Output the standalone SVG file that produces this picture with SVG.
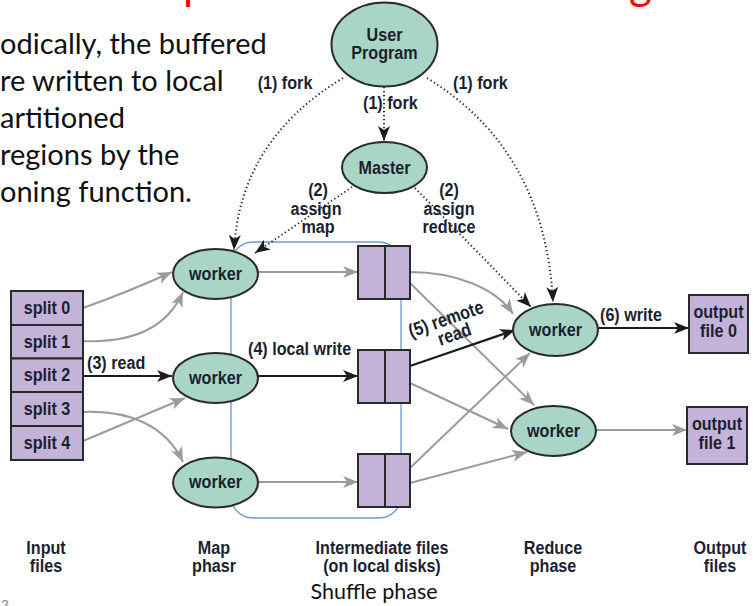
<svg xmlns="http://www.w3.org/2000/svg" width="753" height="606" viewBox="0 0 753 606">
  <style>
    .node { fill: #a9d5c7; stroke: #2a2a2a; stroke-width: 2; }
    .file { fill: #c4b3d9; stroke: #2a2a2a; stroke-width: 2; }
    .lbl { font-family: "Liberation Sans", Arial, sans-serif; font-weight: bold; font-size: 19px; fill: #1c1f30; }
    .mid { text-anchor: middle; }
    .body { font-family: Lato, "Open Sans", sans-serif; font-size: 29px; fill: #111; }
    .gray { fill: none; stroke: #9b9b9b; stroke-width: 2; }
    .dark { fill: none; stroke: #1c1c1c; stroke-width: 2.2; }
    .dots { fill: none; stroke: #2b2b2b; stroke-width: 2; stroke-dasharray: 1.3 2.7; }
  </style>
  <defs>
    <marker id="ah-gray" markerUnits="userSpaceOnUse" markerWidth="16" markerHeight="12" refX="15" refY="6" orient="auto">
      <path d="M0,0 L15,6 L0,12 L4,6 z" fill="#9b9b9b"/>
    </marker>
    <marker id="ah-dark" markerUnits="userSpaceOnUse" markerWidth="16" markerHeight="12" refX="15" refY="6" orient="auto">
      <path d="M0,0 L15,6 L0,12 L4,6 z" fill="#1c1c1c"/>
    </marker>
  </defs>

  <!-- title descenders at the top edge -->
  <text x="183" y="-1" font-family="Lato, 'Open Sans', sans-serif" font-size="44" fill="#ff0000">p</text>
  <text x="629" y="-1" font-family="Lato, 'Open Sans', sans-serif" font-size="44" fill="#ff0000">g</text>

  <!-- slide body text -->
  <g class="body">
    <text x="0" y="54">odically, the buffered</text>
    <text x="0" y="91">re written to local</text>
    <text x="0" y="128">artitioned</text>
    <text x="0" y="165">regions by the</text>
    <text x="0" y="202">oning function.</text>
  </g>

  <!-- shuffle region outline -->
  <rect x="231" y="242" width="170" height="276" rx="22" fill="none" stroke="#6a9ad2" stroke-width="1.3"/>

  <!-- connectors -->
  <g id="connectors">
    <!-- control flow (dotted) -->
    <path class="dots" d="M343,78 Q240,140 234,250" marker-end="url(#ah-dark)"/>
    <path class="dots" d="M384,87 L384,141" marker-end="url(#ah-dark)"/>
    <path class="dots" d="M427,78 Q545,150 553,302" marker-end="url(#ah-dark)"/>
    <path class="dots" d="M352,187 L255,253" marker-end="url(#ah-dark)"/>
    <path class="dots" d="M415,188 L531,307" marker-end="url(#ah-dark)"/>

    <!-- input splits to map workers -->
    <path class="gray" d="M83,308 Q128,292 172,272" marker-end="url(#ah-gray)"/>
    <path class="gray" d="M83,341 C130,343 166,330 183,292" marker-end="url(#ah-gray)"/>
    <path class="dark" d="M83,376 L172,376" marker-end="url(#ah-dark)"/>
    <path class="gray" d="M83,412 C130,410 166,426 183,462" marker-end="url(#ah-gray)"/>
    <path class="gray" d="M83,441 L185,398" marker-end="url(#ah-gray)"/>

    <!-- map workers to intermediate files -->
    <path class="gray" d="M258,272 L358,272" marker-end="url(#ah-gray)"/>
    <path class="dark" d="M258,376 L358,376" marker-end="url(#ah-dark)"/>
    <path class="gray" d="M258,482 L358,482" marker-end="url(#ah-gray)"/>

    <!-- intermediate files to reduce workers -->
    <path class="gray" d="M410,272 C455,272 496,288 513,314" marker-end="url(#ah-gray)"/>
    <path class="gray" d="M410,283 L534,405" marker-end="url(#ah-gray)"/>
    <path class="dark" d="M410,366 L515,330" marker-end="url(#ah-dark)"/>
    <path class="gray" d="M410,383 L508,429" marker-end="url(#ah-gray)"/>
    <path class="gray" d="M410,468 L530,353" marker-end="url(#ah-gray)"/>
    <path class="gray" d="M410,483 L527,452" marker-end="url(#ah-gray)"/>

    <!-- reduce workers to output files -->
    <path class="dark" d="M598,328 L689,328" marker-end="url(#ah-dark)"/>
    <path class="gray" d="M596,430 L687,430" marker-end="url(#ah-gray)"/>
  </g>

  <!-- connector labels (bold, horizontally condensed) -->
  <g class="lbl">
    <text class="mid" transform="translate(285,89) scale(0.85,1)">(1) fork</text>
    <text transform="translate(363,109) scale(0.85,1)">(1) fork</text>
    <text transform="translate(453,89) scale(0.85,1)">(1) fork</text>
    <text class="mid" transform="translate(318,196) scale(0.85,1)">(2)</text>
    <text class="mid" transform="translate(316,215) scale(0.85,1)">assign</text>
    <text class="mid" transform="translate(318,233) scale(0.85,1)">map</text>
    <text class="mid" transform="translate(449,196) scale(0.85,1)">(2)</text>
    <text class="mid" transform="translate(449,215) scale(0.85,1)">assign</text>
    <text class="mid" transform="translate(449,233) scale(0.85,1)">reduce</text>
    <text transform="translate(87,369) scale(0.85,1)">(3) read</text>
    <text transform="translate(248,355) scale(0.85,1)">(4) local write</text>
    <g transform="translate(448,325) rotate(-19)">
      <text class="mid" transform="scale(0.85,1)">(5) remote</text>
      <text class="mid" transform="translate(3,17) scale(0.85,1)">read</text>
    </g>
    <text transform="translate(600,321) scale(0.85,1)">(6) write</text>
  </g>

  <!-- nodes -->
  <g id="user-program">
    <ellipse class="node" cx="384.5" cy="44.5" rx="53" ry="42"/>
    <text class="lbl mid" transform="translate(384.5,41) scale(0.85,1)">User</text>
    <text class="lbl mid" transform="translate(384.5,59) scale(0.85,1)">Program</text>
  </g>
  <g id="master">
    <ellipse class="node" cx="384.5" cy="167.5" rx="42.5" ry="25.5"/>
    <text class="lbl mid" transform="translate(384.5,174) scale(0.85,1)">Master</text>
  </g>

  <g id="input-splits">
    <rect class="file" x="11" y="291" width="72" height="34"/>
    <rect class="file" x="11" y="325" width="72" height="33.5"/>
    <rect class="file" x="11" y="358.5" width="72" height="33.5"/>
    <rect class="file" x="11" y="392" width="72" height="34"/>
    <rect class="file" x="11" y="426" width="72" height="34"/>
    <g class="lbl mid">
      <text transform="translate(47,314) scale(0.85,1)">split 0</text>
      <text transform="translate(47,348) scale(0.85,1)">split 1</text>
      <text transform="translate(47,381) scale(0.85,1)">split 2</text>
      <text transform="translate(47,415) scale(0.85,1)">split 3</text>
      <text transform="translate(47,449) scale(0.85,1)">split 4</text>
    </g>
  </g>

  <g id="map-worker-0">
    <ellipse class="node" cx="215.5" cy="274" rx="42.5" ry="25"/>
    <text class="lbl mid" transform="translate(215.5,280) scale(0.85,1)">worker</text>
  </g>
  <g id="map-worker-1">
    <ellipse class="node" cx="215.5" cy="378" rx="42.5" ry="25"/>
    <text class="lbl mid" transform="translate(215.5,384) scale(0.85,1)">worker</text>
  </g>
  <g id="map-worker-2">
    <ellipse class="node" cx="215.5" cy="482.5" rx="42.5" ry="25"/>
    <text class="lbl mid" transform="translate(215.5,488) scale(0.85,1)">worker</text>
  </g>

  <g id="intermediate-0">
    <rect class="file" x="358" y="246" width="52" height="53"/>
    <line x1="385" y1="246" x2="385" y2="299" stroke="#2a2a2a" stroke-width="2"/>
  </g>
  <g id="intermediate-1">
    <rect class="file" x="358" y="350" width="52" height="53"/>
    <line x1="385" y1="350" x2="385" y2="403" stroke="#2a2a2a" stroke-width="2"/>
  </g>
  <g id="intermediate-2">
    <rect class="file" x="358" y="454" width="52" height="53"/>
    <line x1="385" y1="454" x2="385" y2="507" stroke="#2a2a2a" stroke-width="2"/>
  </g>

  <g id="reduce-worker-0">
    <ellipse class="node" cx="555.5" cy="330" rx="42.5" ry="26"/>
    <text class="lbl mid" transform="translate(555.5,336) scale(0.85,1)">worker</text>
  </g>
  <g id="reduce-worker-1">
    <ellipse class="node" cx="553.5" cy="431" rx="42.5" ry="25"/>
    <text class="lbl mid" transform="translate(553.5,437) scale(0.85,1)">worker</text>
  </g>

  <g id="output-0">
    <rect class="file" x="689" y="295" width="59" height="58"/>
    <text class="lbl mid" transform="translate(718.5,318) scale(0.85,1)">output</text>
    <text class="lbl mid" transform="translate(718.5,337) scale(0.85,1)">file 0</text>
  </g>
  <g id="output-1">
    <rect class="file" x="687" y="407" width="60" height="57"/>
    <text class="lbl mid" transform="translate(717,430) scale(0.85,1)">output</text>
    <text class="lbl mid" transform="translate(717,449) scale(0.85,1)">file 1</text>
  </g>

  <!-- stage captions -->
  <g class="lbl mid">
    <text transform="translate(46,554) scale(0.85,1)">Input</text>
    <text transform="translate(46,572) scale(0.85,1)">files</text>
    <text transform="translate(214,554) scale(0.85,1)">Map</text>
    <text transform="translate(214,572) scale(0.85,1)">phasr</text>
    <text transform="translate(382,554) scale(0.85,1)">Intermediate files</text>
    <text transform="translate(382,572) scale(0.85,1)">(on local disks)</text>
    <text transform="translate(553,554) scale(0.85,1)">Reduce</text>
    <text transform="translate(553,572) scale(0.85,1)">phase</text>
    <text transform="translate(720,554) scale(0.85,1)">Output</text>
    <text transform="translate(720,572) scale(0.85,1)">files</text>
  </g>
  <text x="374" y="599" text-anchor="middle" font-family="Lato, 'Open Sans', sans-serif" font-size="21.5" fill="#111">Shuffle phase</text>
  <text x="-7" y="610" font-family="Lato, 'Open Sans', sans-serif" font-size="14" fill="#8a8a8a">13</text>
</svg>
